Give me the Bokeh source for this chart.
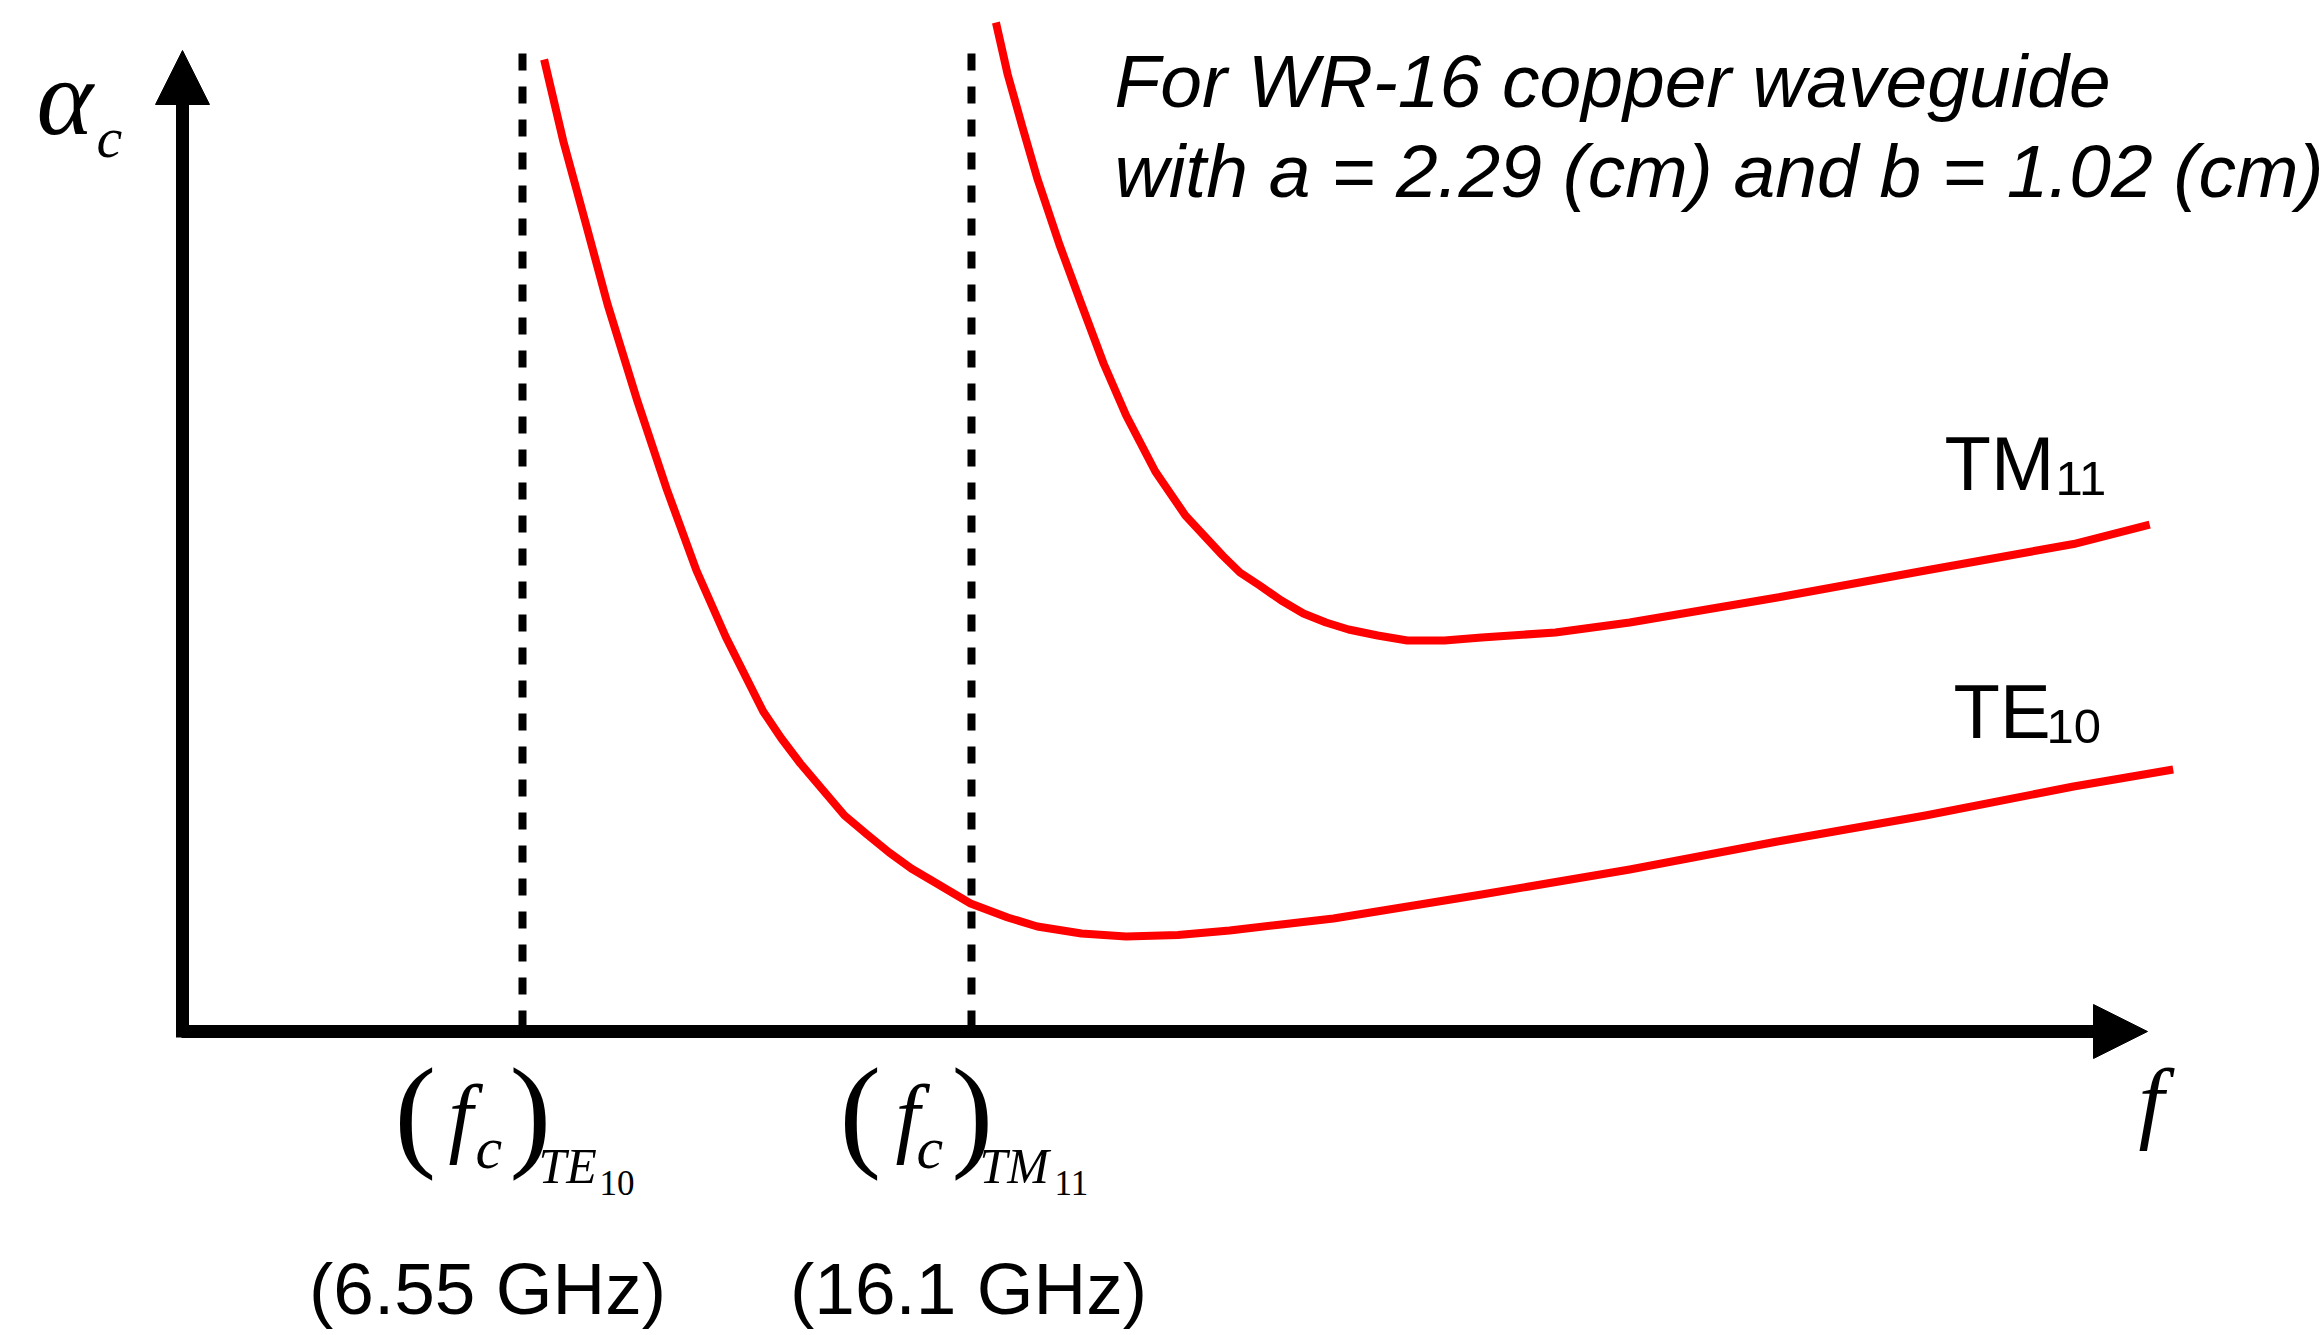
from bokeh.plotting import figure
from bokeh.models import Range1d, Arrow, NormalHead
from bokeh.core.properties import value
from bokeh.embed import file_html
from bokeh.resources import INLINE

# ---------------- data ----------------
# frequency in GHz, attenuation in arbitrary units
te10_freq = [7.01, 7.42, 7.89, 8.36, 8.99, 9.62, 10.25, 10.88, 11.67, 12.05, 12.46, 12.93,
             13.40, 13.88, 14.35, 14.82, 15.29, 16.08, 16.87, 17.50, 18.44, 19.39, 20.49,
             21.59, 22.69, 23.80, 26.95, 30.10, 33.24, 36.39, 39.54, 41.66]
te10_alpha = [9.72, 8.90, 8.09, 7.27, 6.31, 5.42, 4.61, 3.94, 3.20, 2.935, 2.68, 2.42,
              2.16, 1.97, 1.79, 1.63, 1.50, 1.28, 1.14, 1.05, 0.98, 0.95, 0.965,
              1.01, 1.07, 1.13, 1.37, 1.62, 1.90, 2.16, 2.45, 2.62]

tm11_freq = [16.62, 16.87, 17.18, 17.50, 17.97, 18.44, 18.91, 19.39, 20.01, 20.65, 21.44,
             21.81, 22.23, 22.69, 23.16, 23.64, 24.12, 24.74, 25.37, 26.16, 26.95, 28.52,
             30.10, 33.24, 36.39, 39.54, 41.16]
tm11_alpha = [10.09, 9.57, 9.05, 8.53, 7.87, 7.27, 6.68, 6.16, 5.60, 5.16, 4.76,
              4.59, 4.46, 4.31, 4.18, 4.09, 4.02, 3.96, 3.91, 3.91, 3.94, 3.99,
              4.09, 4.34, 4.61, 4.875, 5.07]

cutoff_freqs = [6.55, 16.1]
cutoff_ghz_labels = ["(6.55 GHz)", "(16.1 GHz)"]
cutoff_mode_subs = [("TE", "10"), ("TM", "11")]
mode_names = [("TM", "11"), ("TE", "10")]
note_lines = ["For WR-16 copper waveguide", "with a = 2.29 (cm) and b = 1.02 (cm)"]

# ---------------- layout helpers (reference pixel -> data) ----------------
W, H = 2322, 1335
PX_PER_GHZ = 47.015
LEFT_GHZ = 6.55 - 522 / PX_PER_GHZ
PX_PER_UNIT = 100.0
AXIS_Y_PX = 1031
BASE_SHIFT = 0.35  # em, compensation of the rendered text baseline


def gx(px):
    return LEFT_GHZ + px / PX_PER_GHZ


def gy(py):
    return (AXIS_Y_PX - py) / PX_PER_UNIT


p = figure(width=W, height=H, x_range=Range1d(gx(0), gx(W)),
           y_range=Range1d(gy(H), gy(0)), output_backend="svg",
           toolbar_location=None, min_border=0, x_axis_type=None, y_axis_type=None)
p.grid.visible = False
p.outline_line_color = None
p.background_fill_color = "white"
p.border_fill_color = "white"

RED = "#ff0000"
SANS = "Liberation Sans"
SERIF = "Liberation Serif"

# curves
p.line(te10_freq, te10_alpha, line_color=RED, line_width=8, line_join="round")
p.line(tm11_freq, tm11_alpha, line_color=RED, line_width=8, line_join="round")

# dashed cutoff lines
top = gy(53)
p.segment(x0=cutoff_freqs, y0=[top] * 2, x1=cutoff_freqs, y1=[0, 0],
          line_color="black", line_width=8, line_dash="17 16")

# axes with arrows
x0 = gx(182)
p.add_layout(Arrow(x_start=gx(181), y_start=0, x_end=gx(2147), y_end=0,
                   line_width=13, line_color="black",
                   end=NormalHead(size=54, fill_color="black", line_color="black", line_width=1)))
p.add_layout(Arrow(x_start=x0, y_start=gy(1037), x_end=x0, y_end=gy(50),
                   line_width=13, line_color="black",
                   end=NormalHead(size=54, fill_color="black", line_color="black", line_width=1)))


def txt(x, py, s, font, size, style="normal", align="left", xo=0):
    y = gy(py - BASE_SHIFT * size)
    p.text(x=[x], y=[y], text=[s], text_font=value(font), text_font_size=value(f"{size}px"),
           text_font_style=style, text_align=align, text_baseline="alphabetic",
           text_color="black", x_offset=xo)


# axis labels
txt(gx(36), 135, "α", SERIF, 108, "italic")
txt(gx(96), 157, "c", SERIF, 58, "italic")
txt(gx(2138), 1133, "f", SERIF, 92, "italic")

# cutoff labels
for fc, ghz, (m, n) in zip(cutoff_freqs, cutoff_ghz_labels, cutoff_mode_subs):
    te = m == "TE"
    txt(fc, 1155, "(", SERIF, 125, xo=-128 if te else -132)
    txt(fc, 1147, "f", SERIF, 88, "italic", xo=-74 if te else -76)
    txt(fc, 1168, "c", SERIF, 60, "italic", xo=-47 if te else -55)
    txt(fc, 1155, ")", SERIF, 125, xo=-13 if te else -20)
    txt(fc, 1183, m, SERIF, 50, "italic", xo=16 if te else 8)
    txt(fc, 1195, n, SERIF, 35, xo=77 if te else 83)
    txt(fc, 1314, ghz, SANS, 73, align="center", xo=-35 if te else -3)

# mode names
mode_pos = {"TM": (1944, 490, 2055, 495), "TE": (1953, 738, 2046, 743)}
for m, n in mode_names:
    ax, ay, bx, by = mode_pos[m]
    txt(gx(ax), ay, m, SANS, 76)
    txt(gx(bx), by, n, SANS, 49)

# note
txt(gx(1114), 107, note_lines[0], SANS, 75, "italic")
txt(gx(1114), 197, note_lines[1], SANS, 75, "italic")

open("out.html", "w").write(file_html(p, INLINE))
